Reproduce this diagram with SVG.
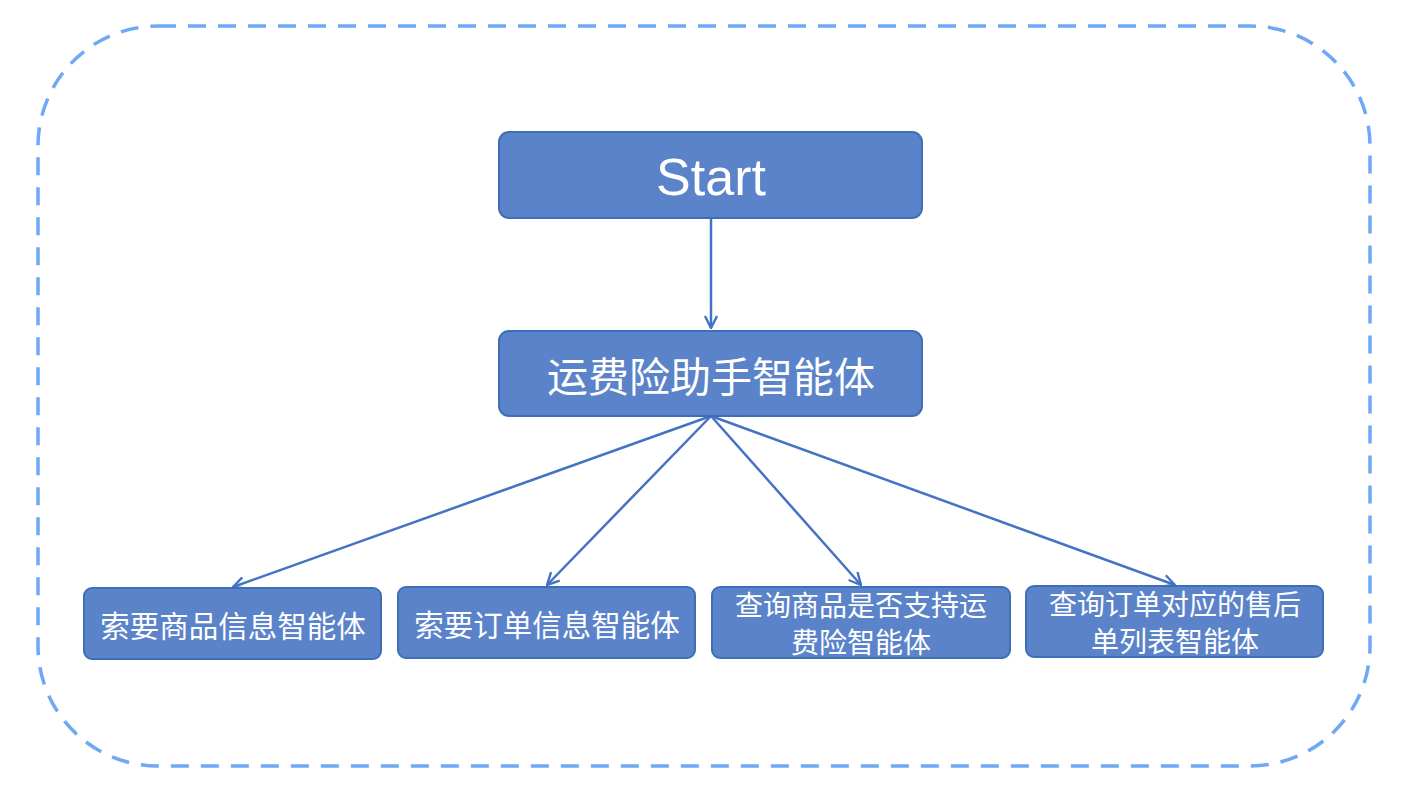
<svg xmlns="http://www.w3.org/2000/svg" width="1410" height="790" viewBox="0 0 1410 790">
<defs>
<style>
.box{fill:#5b83c9;stroke:#3d6fb8;stroke-width:2}
.cn{font-family:"Noto Sans CJK SC","Noto Sans",sans-serif;fill:#fff;text-anchor:middle;dominant-baseline:central}
.en{font-family:"Liberation Sans",Arial,sans-serif;fill:#fff;text-anchor:middle;dominant-baseline:central}
.conn{stroke:#4472c4;stroke-width:2.5;fill:none}
</style>
<marker id="arr" viewBox="0 0 14 14" refX="13" refY="7" markerWidth="14" markerHeight="14" markerUnits="userSpaceOnUse" orient="auto">
<path d="M1,1 L13,7 L1,13" fill="none" stroke="#4472c4" stroke-width="2.4"/>
</marker>
</defs>
<rect x="38" y="26" width="1332" height="740" rx="120" ry="120" fill="none" stroke="#6fa8f5" stroke-width="3.5" stroke-dasharray="18,12"/>
<g id="connectors">
<line class="conn" x1="711" y1="218" x2="711" y2="328" marker-end="url(#arr)"/>
<line class="conn" x1="711" y1="416" x2="233" y2="587" marker-end="url(#arr)"/>
<line class="conn" x1="711" y1="416" x2="547" y2="585" marker-end="url(#arr)"/>
<line class="conn" x1="711" y1="416" x2="861" y2="585" marker-end="url(#arr)"/>
<line class="conn" x1="711" y1="416" x2="1175" y2="585" marker-end="url(#arr)"/>
</g>
<g id="start"><rect class="box" x="499" y="132" width="423" height="86" rx="10"/><text class="en" x="711" y="177" font-size="52">Start</text></g>
<g id="main"><rect class="box" x="499" y="331" width="423" height="85" rx="10"/><text class="cn" x="711" y="374" font-size="41">运费险助手智能体</text></g>
<g id="n1"><rect class="box" x="84" y="588" width="297" height="71" rx="8"/><text class="cn" x="233" y="624" font-size="29.5">索要商品信息智能体</text></g>
<g id="n2"><rect class="box" x="398" y="587" width="297" height="71" rx="8"/><text class="cn" x="547" y="623" font-size="29.5">索要订单信息智能体</text></g>
<g id="n3"><rect class="box" x="712" y="587" width="298" height="71" rx="8"/><text class="cn" x="861" y="604" font-size="28">查询商品是否支持运</text><text class="cn" x="861" y="641" font-size="28">费险智能体</text></g>
<g id="n4"><rect class="box" x="1026" y="586" width="297" height="71" rx="8"/><text class="cn" x="1175" y="603" font-size="28">查询订单对应的售后</text><text class="cn" x="1175" y="640" font-size="28">单列表智能体</text></g>
</svg>
